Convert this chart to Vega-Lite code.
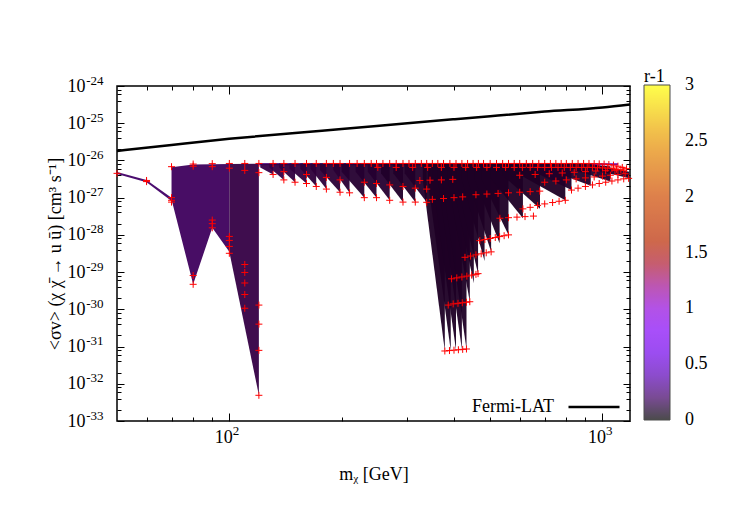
{
  "$schema": "https://vega.github.io/schema/vega-lite/v6.json",
  "width": 513,
  "height": 335,
  "autosize": "none",
  "padding": {"left": 117, "top": 86, "right": 120, "bottom": 104},
  "background": "white",
  "config": {
    "font": "Liberation Serif",
    "view": {"stroke": "black", "strokeWidth": 1.5}
  },
  "datasets": {
    "band": [
      {"seg": "top", "x": 120, "lo": 7.4e-27, "hi": 8.4e-27, "r": 0.4},
      {"seg": "top", "x": 1100, "lo": 7.4e-27, "hi": 8.4e-27, "r": 0.4},
      {"seg": "b0", "x": 50, "lo": 4.3e-27, "hi": 4.9e-27, "r": 0.2},
      {"seg": "b0", "x": 60, "lo": 2.6e-27, "hi": 3.0e-27, "r": 0.2},
      {"seg": "b0", "x": 70, "lo": 8.1e-28, "hi": 1.0e-27, "r": 0.2},
      {"seg": "a1", "x": 70, "lo": 8.9e-28, "hi": 6.6e-27, "r": 0.18},
      {"seg": "a1", "x": 80, "lo": 4.7e-30, "hi": 7.8e-27, "r": 0.18},
      {"seg": "a1", "x": 90, "lo": 1.55e-28, "hi": 7.9e-27, "r": 0.18},
      {"seg": "a1", "x": 100, "lo": 3.5e-29, "hi": 8.0e-27, "r": 0.18},
      {"seg": "a2", "x": 100, "lo": 3.5e-29, "hi": 8.0e-27, "r": 0.13},
      {"seg": "a2", "x": 120, "lo": 4.9e-33, "hi": 8.1e-27, "r": 0.13}
    ],
    "wedges": [
      {"seg": "w01", "x": 121, "lo": 6.5e-27, "hi": 8.3e-27, "r": 0.14},
      {"seg": "w01", "x": 131, "lo": 4.2e-27, "hi": 8.3e-27, "r": 0.14},
      {"seg": "w02", "x": 128, "lo": 6.5e-27, "hi": 8.3e-27, "r": 0.13},
      {"seg": "w02", "x": 140, "lo": 3.0e-27, "hi": 8.3e-27, "r": 0.13},
      {"seg": "w03", "x": 136, "lo": 6.5e-27, "hi": 8.3e-27, "r": 0.12},
      {"seg": "w03", "x": 150, "lo": 2.6e-27, "hi": 8.3e-27, "r": 0.12},
      {"seg": "w04", "x": 145, "lo": 6.0e-27, "hi": 8.3e-27, "r": 0.12},
      {"seg": "w04", "x": 161, "lo": 2.4e-27, "hi": 8.3e-27, "r": 0.12},
      {"seg": "w05", "x": 155, "lo": 6.0e-27, "hi": 8.3e-27, "r": 0.11},
      {"seg": "w05", "x": 171, "lo": 2.0e-27, "hi": 8.3e-27, "r": 0.11},
      {"seg": "w06", "x": 165, "lo": 6.0e-27, "hi": 8.3e-27, "r": 0.11},
      {"seg": "w06", "x": 182, "lo": 1.7e-27, "hi": 8.3e-27, "r": 0.11},
      {"seg": "w07", "x": 175, "lo": 5.5e-27, "hi": 8.3e-27, "r": 0.1},
      {"seg": "w07", "x": 198, "lo": 1.4e-27, "hi": 8.3e-27, "r": 0.1},
      {"seg": "w08", "x": 190, "lo": 5.5e-27, "hi": 8.3e-27, "r": 0.1},
      {"seg": "w08", "x": 210, "lo": 1.35e-27, "hi": 8.3e-27, "r": 0.1},
      {"seg": "w09", "x": 200, "lo": 5.0e-27, "hi": 8.3e-27, "r": 0.09},
      {"seg": "w09", "x": 230, "lo": 1.0e-27, "hi": 8.3e-27, "r": 0.09},
      {"seg": "w10", "x": 218, "lo": 5.0e-27, "hi": 8.3e-27, "r": 0.09},
      {"seg": "w10", "x": 248, "lo": 1.0e-27, "hi": 8.3e-27, "r": 0.09},
      {"seg": "w11", "x": 235, "lo": 5.0e-27, "hi": 8.3e-27, "r": 0.09},
      {"seg": "w11", "x": 269, "lo": 8.5e-28, "hi": 8.3e-27, "r": 0.09},
      {"seg": "w12", "x": 255, "lo": 4.5e-27, "hi": 8.3e-27, "r": 0.08},
      {"seg": "w12", "x": 292, "lo": 7.6e-28, "hi": 8.3e-27, "r": 0.08},
      {"seg": "w13", "x": 275, "lo": 4.5e-27, "hi": 8.3e-27, "r": 0.08},
      {"seg": "w13", "x": 315, "lo": 7.6e-28, "hi": 8.3e-27, "r": 0.08},
      {"seg": "w14", "x": 295, "lo": 4.5e-27, "hi": 8.3e-27, "r": 0.08},
      {"seg": "w14", "x": 338, "lo": 7.5e-28, "hi": 8.3e-27, "r": 0.08},
      {"seg": "s01", "x": 330, "lo": 3.0e-27, "hi": 8.3e-27, "r": 0.07},
      {"seg": "s01", "x": 378, "lo": 7.6e-32, "hi": 8.3e-27, "r": 0.07},
      {"seg": "s02", "x": 340, "lo": 3.0e-27, "hi": 8.3e-27, "r": 0.07},
      {"seg": "s02", "x": 392, "lo": 7.8e-32, "hi": 8.3e-27, "r": 0.07},
      {"seg": "s03", "x": 350, "lo": 3.0e-27, "hi": 8.3e-27, "r": 0.07},
      {"seg": "s03", "x": 405, "lo": 8.0e-32, "hi": 8.3e-27, "r": 0.07},
      {"seg": "s04", "x": 362, "lo": 3.0e-27, "hi": 8.3e-27, "r": 0.07},
      {"seg": "s04", "x": 420, "lo": 8.3e-32, "hi": 8.3e-27, "r": 0.07},
      {"seg": "s05", "x": 372, "lo": 3.0e-27, "hi": 8.3e-27, "r": 0.07},
      {"seg": "s05", "x": 432, "lo": 8.6e-32, "hi": 8.3e-27, "r": 0.07},
      {"seg": "s06", "x": 385, "lo": 3.0e-27, "hi": 8.3e-27, "r": 0.07},
      {"seg": "s06", "x": 441, "lo": 1.6e-30, "hi": 8.3e-27, "r": 0.07},
      {"seg": "s07", "x": 395, "lo": 3.0e-27, "hi": 8.3e-27, "r": 0.07},
      {"seg": "s07", "x": 452, "lo": 5.0e-30, "hi": 8.3e-27, "r": 0.07},
      {"seg": "s08", "x": 405, "lo": 3.0e-27, "hi": 8.3e-27, "r": 0.07},
      {"seg": "s08", "x": 464, "lo": 9.0e-30, "hi": 8.3e-27, "r": 0.07},
      {"seg": "s09", "x": 420, "lo": 3.0e-27, "hi": 8.3e-27, "r": 0.07},
      {"seg": "s09", "x": 483, "lo": 2.0e-29, "hi": 8.3e-27, "r": 0.07},
      {"seg": "s10", "x": 435, "lo": 3.0e-27, "hi": 8.3e-27, "r": 0.07},
      {"seg": "s10", "x": 503, "lo": 3.5e-29, "hi": 8.3e-27, "r": 0.07},
      {"seg": "s11", "x": 455, "lo": 3.0e-27, "hi": 8.3e-27, "r": 0.07},
      {"seg": "s11", "x": 530, "lo": 6.0e-29, "hi": 8.3e-27, "r": 0.07},
      {"seg": "s12", "x": 475, "lo": 3.0e-27, "hi": 8.3e-27, "r": 0.07},
      {"seg": "s12", "x": 560, "lo": 1.0e-28, "hi": 8.3e-27, "r": 0.07},
      {"seg": "s13", "x": 500, "lo": 3.5e-27, "hi": 8.3e-27, "r": 0.07},
      {"seg": "s13", "x": 612, "lo": 2.8e-28, "hi": 8.3e-27, "r": 0.07},
      {"seg": "s14", "x": 540, "lo": 4.0e-27, "hi": 8.3e-27, "r": 0.07},
      {"seg": "s14", "x": 680, "lo": 5.0e-28, "hi": 8.3e-27, "r": 0.07},
      {"seg": "s15", "x": 590, "lo": 4.5e-27, "hi": 8.3e-27, "r": 0.07},
      {"seg": "s15", "x": 795, "lo": 8.5e-28, "hi": 8.3e-27, "r": 0.07},
      {"seg": "u1", "x": 640, "lo": 5.5e-27, "hi": 8.3e-27, "r": 0.08},
      {"seg": "u1", "x": 826, "lo": 1.6e-27, "hi": 8.3e-27, "r": 0.08},
      {"seg": "u2", "x": 720, "lo": 5.5e-27, "hi": 8.3e-27, "r": 0.08},
      {"seg": "u2", "x": 930, "lo": 2.1e-27, "hi": 8.3e-27, "r": 0.08},
      {"seg": "u3", "x": 820, "lo": 6.0e-27, "hi": 8.3e-27, "r": 0.08},
      {"seg": "u3", "x": 1050, "lo": 2.7e-27, "hi": 7.0e-27, "r": 0.08},
      {"seg": "u4", "x": 920, "lo": 6.0e-27, "hi": 8.3e-27, "r": 0.08},
      {"seg": "u4", "x": 1180, "lo": 3.3e-27, "hi": 5.0e-27, "r": 0.08}
    ],
    "fermi": [
      {"x": 50, "y": 1.8e-26, "name": "Fermi-LAT"},
      {"x": 70, "y": 2.6e-26, "name": "Fermi-LAT"},
      {"x": 100, "y": 3.8e-26, "name": "Fermi-LAT"},
      {"x": 150, "y": 5.5e-26, "name": "Fermi-LAT"},
      {"x": 200, "y": 7.0e-26, "name": "Fermi-LAT"},
      {"x": 300, "y": 1.0e-25, "name": "Fermi-LAT"},
      {"x": 400, "y": 1.28e-25, "name": "Fermi-LAT"},
      {"x": 500, "y": 1.55e-25, "name": "Fermi-LAT"},
      {"x": 700, "y": 2.05e-25, "name": "Fermi-LAT"},
      {"x": 1000, "y": 2.65e-25, "name": "Fermi-LAT"},
      {"x": 1185, "y": 3.2e-25, "name": "Fermi-LAT"}
    ],
    "pts": [
      {"x": 50, "y": 4.5e-27}, {"x": 60, "y": 2.7e-27}, {"x": 60, "y": 2.9e-27},
      {"x": 70, "y": 1.0e-27}, {"x": 70, "y": 8.5e-28}, {"x": 70, "y": 7.6e-28},
      {"x": 80, "y": 8.1e-30}, {"x": 80, "y": 4.7e-30},
      {"x": 90, "y": 2.5e-28}, {"x": 90, "y": 2.0e-28}, {"x": 90, "y": 1.55e-28},
      {"x": 100, "y": 9.1e-29}, {"x": 100, "y": 7.1e-29}, {"x": 100, "y": 4.9e-29}, {"x": 100, "y": 3.2e-29},
      {"x": 110, "y": 1.6e-29}, {"x": 110, "y": 9.8e-30}, {"x": 110, "y": 5.1e-30}, {"x": 110, "y": 2.5e-30}, {"x": 110, "y": 1.07e-30},
      {"x": 120, "y": 1.3e-30}, {"x": 120, "y": 4.0e-31}, {"x": 120, "y": 7.9e-32}, {"x": 120, "y": 4.9e-33},
      {"x": 80, "y": 7.0e-27}, {"x": 90, "y": 6.8e-27}, {"x": 100, "y": 6.2e-27}, {"x": 110, "y": 5.4e-27}, {"x": 120, "y": 4.7e-27},
      {"x": 131, "y": 4.2e-27}, {"x": 140, "y": 3.0e-27}, {"x": 150, "y": 2.6e-27}, {"x": 161, "y": 2.4e-27},
      {"x": 171, "y": 2.0e-27}, {"x": 182, "y": 1.7e-27}, {"x": 198, "y": 1.4e-27}, {"x": 210, "y": 1.35e-27},
      {"x": 230, "y": 1.0e-27}, {"x": 248, "y": 1.0e-27}, {"x": 269, "y": 8.5e-28}, {"x": 292, "y": 7.6e-28},
      {"x": 315, "y": 7.6e-28}, {"x": 338, "y": 7.5e-28},
      {"x": 140, "y": 5.0e-27}, {"x": 161, "y": 4.2e-27}, {"x": 182, "y": 3.5e-27}, {"x": 198, "y": 3.0e-27},
      {"x": 230, "y": 2.6e-27}, {"x": 248, "y": 2.4e-27}, {"x": 269, "y": 2.2e-27}, {"x": 292, "y": 2.0e-27},
      {"x": 315, "y": 1.8e-27}, {"x": 338, "y": 1.7e-27},
      {"x": 324, "y": 2.9e-27}, {"x": 345, "y": 2.95e-27}, {"x": 370, "y": 3.0e-27}, {"x": 397, "y": 3.1e-27},
      {"x": 350, "y": 9.0e-28}, {"x": 375, "y": 9.5e-28}, {"x": 400, "y": 1.0e-27}, {"x": 422, "y": 1.05e-27},
      {"x": 458, "y": 1.2e-27}, {"x": 490, "y": 1.25e-27}, {"x": 525, "y": 1.3e-27}, {"x": 560, "y": 1.35e-27},
      {"x": 600, "y": 1.4e-27}, {"x": 640, "y": 1.45e-27}, {"x": 679, "y": 1.5e-27},
      {"x": 531, "y": 2.8e-28}, {"x": 560, "y": 2.9e-28}, {"x": 590, "y": 3.0e-28}, {"x": 620, "y": 3.1e-28}, {"x": 653, "y": 3.2e-28},
      {"x": 378, "y": 7.6e-32}, {"x": 389, "y": 7.8e-32}, {"x": 400, "y": 8.0e-32}, {"x": 411, "y": 8.2e-32}, {"x": 422, "y": 8.4e-32}, {"x": 432, "y": 8.6e-32},
      {"x": 386, "y": 1.3e-30}, {"x": 398, "y": 1.4e-30}, {"x": 410, "y": 1.45e-30}, {"x": 421, "y": 1.5e-30}, {"x": 432, "y": 1.55e-30}, {"x": 441, "y": 1.6e-30},
      {"x": 394, "y": 6.6e-30}, {"x": 407, "y": 7.0e-30}, {"x": 420, "y": 7.4e-30}, {"x": 433, "y": 7.8e-30}, {"x": 446, "y": 8.3e-30}, {"x": 458, "y": 8.7e-30}, {"x": 464, "y": 9.1e-30},
      {"x": 428, "y": 2.5e-29}, {"x": 443, "y": 2.7e-29}, {"x": 458, "y": 2.9e-29}, {"x": 473, "y": 3.1e-29}, {"x": 488, "y": 3.3e-29}, {"x": 503, "y": 3.5e-29},
      {"x": 469, "y": 7.0e-29}, {"x": 484, "y": 7.5e-29}, {"x": 500, "y": 8.0e-29}, {"x": 516, "y": 8.5e-29}, {"x": 530, "y": 9.0e-29}, {"x": 545, "y": 9.5e-29}, {"x": 560, "y": 1.0e-28},
      {"x": 612, "y": 5.0e-28}, {"x": 640, "y": 5.5e-28}, {"x": 670, "y": 6.2e-28}, {"x": 700, "y": 6.8e-28}, {"x": 735, "y": 7.4e-28}, {"x": 765, "y": 8.0e-28}, {"x": 795, "y": 8.5e-28},
      {"x": 826, "y": 1.6e-27}, {"x": 860, "y": 1.8e-27}, {"x": 900, "y": 2.0e-27}, {"x": 940, "y": 2.2e-27}, {"x": 980, "y": 2.4e-27},
      {"x": 1020, "y": 2.6e-27}, {"x": 1060, "y": 2.8e-27}, {"x": 1100, "y": 3.0e-27}, {"x": 1140, "y": 3.2e-27}, {"x": 1175, "y": 3.3e-27},
      {"x": 700, "y": 2.6e-27}, {"x": 750, "y": 2.8e-27}, {"x": 800, "y": 3.0e-27}, {"x": 850, "y": 3.2e-27}, {"x": 900, "y": 3.4e-27},
      {"x": 950, "y": 3.6e-27}, {"x": 1000, "y": 3.8e-27}, {"x": 1050, "y": 4.0e-27}, {"x": 1100, "y": 4.2e-27}, {"x": 1150, "y": 4.4e-27},
      {"x": 600, "y": 4.0e-27}, {"x": 660, "y": 4.2e-27}, {"x": 720, "y": 4.4e-27}, {"x": 780, "y": 4.6e-27}, {"x": 840, "y": 4.8e-27},
      {"x": 900, "y": 5.0e-27}, {"x": 960, "y": 5.2e-27}, {"x": 1020, "y": 5.3e-27}, {"x": 1080, "y": 5.4e-27}, {"x": 1140, "y": 5.5e-27}
    ],
    "toprow": [
      {"x": 70, "y": 6.8e-27}, {"x": 80, "y": 8.0e-27}, {"x": 90, "y": 8.2e-27}, {"x": 100, "y": 8.3e-27}, {"x": 110, "y": 8.3e-27},
      {"x": 120, "y": 8.3e-27}, {"x": 131, "y": 8.3e-27}, {"x": 140, "y": 8.3e-27}, {"x": 150, "y": 8.3e-27}, {"x": 161, "y": 8.3e-27},
      {"x": 171, "y": 8.3e-27}, {"x": 182, "y": 8.3e-27}, {"x": 190, "y": 8.3e-27}, {"x": 198, "y": 8.3e-27}, {"x": 210, "y": 8.3e-27},
      {"x": 220, "y": 8.3e-27}, {"x": 230, "y": 8.3e-27}, {"x": 240, "y": 8.3e-27}, {"x": 248, "y": 8.3e-27}, {"x": 258, "y": 8.3e-27},
      {"x": 269, "y": 8.3e-27}, {"x": 280, "y": 8.3e-27}, {"x": 292, "y": 8.3e-27}, {"x": 303, "y": 8.3e-27}, {"x": 315, "y": 8.3e-27},
      {"x": 327, "y": 8.3e-27}, {"x": 338, "y": 8.3e-27}, {"x": 350, "y": 8.3e-27}, {"x": 362, "y": 8.3e-27}, {"x": 375, "y": 8.3e-27},
      {"x": 390, "y": 8.3e-27}, {"x": 405, "y": 8.3e-27}, {"x": 420, "y": 8.3e-27}, {"x": 435, "y": 8.3e-27}, {"x": 450, "y": 8.3e-27},
      {"x": 465, "y": 8.3e-27}, {"x": 480, "y": 8.3e-27}, {"x": 500, "y": 8.3e-27}, {"x": 520, "y": 8.3e-27}, {"x": 540, "y": 8.3e-27},
      {"x": 560, "y": 8.3e-27}, {"x": 580, "y": 8.3e-27}, {"x": 600, "y": 8.3e-27}, {"x": 625, "y": 8.3e-27}, {"x": 650, "y": 8.3e-27},
      {"x": 675, "y": 8.3e-27}, {"x": 700, "y": 8.3e-27}, {"x": 725, "y": 8.3e-27}, {"x": 750, "y": 8.3e-27}, {"x": 775, "y": 8.3e-27},
      {"x": 800, "y": 8.3e-27}, {"x": 830, "y": 8.3e-27}, {"x": 860, "y": 8.3e-27}, {"x": 890, "y": 8.3e-27}, {"x": 920, "y": 8.3e-27},
      {"x": 950, "y": 8.2e-27}, {"x": 980, "y": 8.1e-27}, {"x": 1010, "y": 8.0e-27}, {"x": 1040, "y": 7.8e-27}, {"x": 1070, "y": 7.5e-27},
      {"x": 1100, "y": 7.0e-27}, {"x": 1130, "y": 6.5e-27}, {"x": 1160, "y": 6.0e-27},
      {"x": 250, "y": 6.5e-27}, {"x": 280, "y": 6.5e-27}, {"x": 310, "y": 6.5e-27}, {"x": 340, "y": 6.5e-27}, {"x": 370, "y": 6.5e-27},
      {"x": 400, "y": 6.5e-27}, {"x": 430, "y": 6.5e-27}, {"x": 460, "y": 6.5e-27}, {"x": 490, "y": 6.5e-27}, {"x": 520, "y": 6.5e-27},
      {"x": 550, "y": 6.5e-27}, {"x": 580, "y": 6.5e-27}, {"x": 610, "y": 6.5e-27}, {"x": 640, "y": 6.5e-27}, {"x": 670, "y": 6.5e-27},
      {"x": 700, "y": 6.5e-27}, {"x": 730, "y": 6.5e-27}, {"x": 760, "y": 6.5e-27}, {"x": 790, "y": 6.5e-27}, {"x": 820, "y": 6.5e-27},
      {"x": 850, "y": 6.5e-27}, {"x": 880, "y": 6.5e-27}, {"x": 910, "y": 6.5e-27}, {"x": 940, "y": 6.5e-27}, {"x": 970, "y": 6.4e-27},
      {"x": 1000, "y": 6.3e-27}, {"x": 1030, "y": 6.2e-27}, {"x": 1060, "y": 6.0e-27}, {"x": 1090, "y": 5.8e-27}, {"x": 1120, "y": 5.6e-27}
    ]
  },
  "resolve": {"axis": {"x": "independent", "y": "independent"}},
  "layer": [
    {
      "data": {"name": "band"},
      "mark": {"type": "area", "opacity": 0.95, "interpolate": "linear"},
      "encoding": {
        "x": {"field": "x", "type": "quantitative",
          "scale": {"type": "log", "domain": [50, 1185], "nice": false},
          "axis": {"orient": "bottom", "values": [100, 1000], "labelExpr": "'10'", "labelAlign": "right", "labelOffset": 3, "tickSize": -8, "tickColor": "black", "labelPadding": 15, "labelFont": "Liberation Serif", "labelFontSize": 18, "labelColor": "black", "domain": false, "grid": false,
            "title": "mᵪ [GeV]", "titleFont": "Liberation Serif", "titleFontSize": 18, "titleFontWeight": "normal", "titleColor": "black", "titlePadding": 19}},
        "y": {"field": "lo", "type": "quantitative",
          "scale": {"type": "log", "domain": [1e-33, 1e-24], "nice": false},
          "axis": {"orient": "left", "values": [1e-33, 1e-32, 1e-31, 1e-30, 1e-29, 1e-28, 1e-27, 1e-26, 1e-25, 1e-24],
            "labelExpr": "'10'", "tickSize": -7, "tickColor": "black", "labelPadding": 39, "labelOverlap": false, "labelFont": "Liberation Serif", "labelFontSize": 18, "labelColor": "black", "domain": false, "grid": false,
            "title": "<σv> (χ χ̄ → u ū)  [cm³ s⁻¹]", "titleFont": "Liberation Serif", "titleFontSize": 18, "titleFontWeight": "normal", "titleColor": "black", "titlePadding": 3}},
        "y2": {"field": "hi"},
        "detail": {"field": "seg"},
        "color": {"field": "r", "type": "quantitative",
          "scale": {"domain": [0, 0.125, 0.25, 0.5, 0.75, 1, 1.25, 1.5, 2, 2.5, 3],
            "range": ["#000000", "#340042", "#4a0080", "#6801dd", "#8004ff", "#9309dd", "#a51280", "#b42000", "#d04b00", "#e99400", "#ffff00"],
            "interpolate": "rgb"},
          "legend": {"type": "gradient", "orient": "none", "legendX": 527, "legendY": -18, "direction": "vertical",
            "title": "r-1", "titleFont": "Liberation Serif", "titleFontSize": 18, "titleFontWeight": "normal", "titleColor": "black", "titlePadding": -1,
            "gradientLength": 335, "gradientThickness": 26,
            "gradientStrokeColor": "black", "gradientStrokeWidth": 1, "gradientOpacity": 0.7,
            "values": [0, 0.5, 1, 1.5, 2, 2.5, 3], "format": "~g", "labelOffset": 15, "labelOverlap": false,
            "labelFont": "Liberation Serif", "labelFontSize": 18, "labelColor": "black", "labelBaseline": "middle",
            "encode": {"labels": {"update": {"baseline": {"value": "middle"}}}}}}
      }
    },
    {
      "data": {"name": "wedges"},
      "mark": {"type": "area", "opacity": 0.95, "interpolate": "linear"},
      "encoding": {
        "x": {"field": "x", "type": "quantitative",
          "axis": {"orient": "bottom", "values": [100, 1000], "labelExpr": "'' + round(log(datum.value) / LN10)", "labelAlign": "left", "labelOffset": 3, "ticks": true, "tickSize": 0, "tickOpacity": 0, "labelPadding": 3, "labelFont": "Liberation Serif", "labelFontSize": 13, "labelColor": "black", "domain": false, "grid": false, "title": null}},
        "y": {"field": "lo", "type": "quantitative",
          "axis": {"orient": "left", "values": [1e-33, 1e-32, 1e-31, 1e-30, 1e-29, 1e-28, 1e-27, 1e-26, 1e-25, 1e-24],
            "labelExpr": "'' + round(log(datum.value) / LN10)", "labelOffset": -6, "ticks": true, "tickSize": 0, "tickOpacity": 0, "labelPadding": 14, "labelOverlap": false, "labelFont": "Liberation Serif", "labelFontSize": 13, "labelColor": "black", "domain": false, "grid": false, "title": null}},
        "y2": {"field": "hi"},
        "detail": {"field": "seg"},
        "color": {"field": "r", "type": "quantitative"}
      }
    },
    {
      "data": {"name": "pts"},
      "mark": {"type": "point", "shape": "M-1,0L1,0M0,-1L0,1", "filled": false, "stroke": "#ff0000", "strokeWidth": 1, "size": 49, "opacity": 1},
      "encoding": {
        "x": {"field": "x", "type": "quantitative",
          "axis": {"orient": "bottom", "values": [60, 70, 80, 90, 200, 300, 400, 500, 600, 700, 800, 900], "labels": false, "tickSize": -4, "tickColor": "black", "domain": false, "grid": false, "title": null}},
        "y": {"field": "y", "type": "quantitative",
          "axis": {"orient": "left", "values": [2e-33, 4e-33, 6e-33, 8e-33, 2e-32, 4e-32, 6e-32, 8e-32, 2e-31, 4e-31, 6e-31, 8e-31, 2e-30, 4e-30, 6e-30, 8e-30, 2e-29, 4e-29, 6e-29, 8e-29, 2e-28, 4e-28, 6e-28, 8e-28, 2e-27, 4e-27, 6e-27, 8e-27, 2e-26, 4e-26, 6e-26, 8e-26, 2e-25, 4e-25, 6e-25, 8e-25], "labels": false, "tickSize": -4, "tickColor": "black", "domain": false, "grid": false, "title": null}}
      }
    },
    {
      "data": {"name": "toprow"},
      "mark": {"type": "point", "shape": "M-1,0L1,0M0,-1L0,1", "filled": false, "stroke": "#ff0000", "strokeWidth": 1, "size": 49, "opacity": 1},
      "encoding": {
        "x": {"field": "x", "type": "quantitative",
          "axis": {"orient": "top", "values": [60, 70, 80, 90, 200, 300, 400, 500, 600, 700, 800, 900], "labels": false, "tickSize": -4, "tickColor": "black", "domain": false, "grid": false, "title": null}},
        "y": {"field": "y", "type": "quantitative",
          "axis": {"orient": "right", "values": [2e-33, 4e-33, 6e-33, 8e-33, 2e-32, 4e-32, 6e-32, 8e-32, 2e-31, 4e-31, 6e-31, 8e-31, 2e-30, 4e-30, 6e-30, 8e-30, 2e-29, 4e-29, 6e-29, 8e-29, 2e-28, 4e-28, 6e-28, 8e-28, 2e-27, 4e-27, 6e-27, 8e-27, 2e-26, 4e-26, 6e-26, 8e-26, 2e-25, 4e-25, 6e-25, 8e-25], "labels": false, "tickSize": -4, "tickColor": "black", "domain": false, "grid": false, "title": null}}
      }
    },
    {
      "data": {"name": "fermi"},
      "mark": {"type": "line", "strokeWidth": 2.5, "interpolate": "monotone"},
      "encoding": {
        "x": {"field": "x", "type": "quantitative",
          "axis": {"orient": "top", "values": [100, 1000], "labels": false, "tickSize": -8, "tickColor": "black", "domain": false, "grid": false, "title": null}},
        "y": {"field": "y", "type": "quantitative",
          "axis": {"orient": "right", "values": [1e-33, 1e-32, 1e-31, 1e-30, 1e-29, 1e-28, 1e-27, 1e-26, 1e-25, 1e-24], "labels": false, "tickSize": -7, "tickColor": "black", "domain": false, "grid": false, "title": null}},
        "stroke": {"field": "name", "type": "nominal", "scale": {"range": ["black"]},
          "legend": {"orient": "bottom-right", "title": null, "offset": 5, "padding": 0, "symbolType": "stroke", "symbolSize": 2601, "symbolStrokeWidth": 2.5, "symbolStrokeColor": "black", "labelAlign": "right", "labelOffset": -67, "labelFont": "Liberation Serif", "labelFontSize": 18, "labelColor": "black"}}
      }
    }
  ]
}
